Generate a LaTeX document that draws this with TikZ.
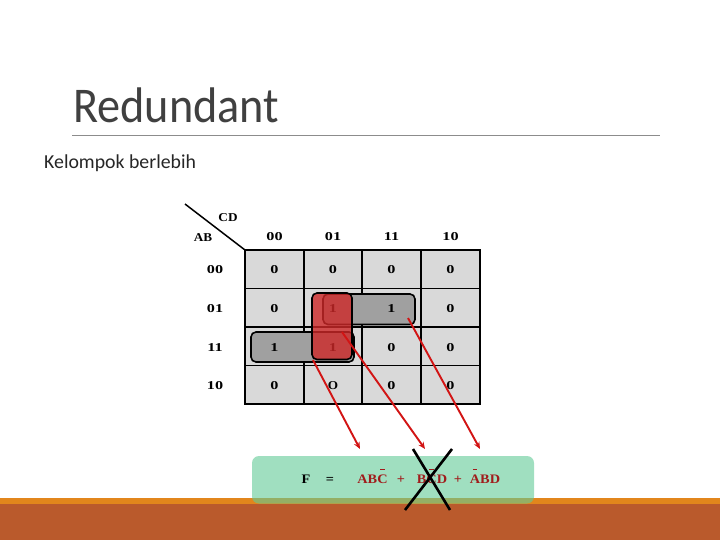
\documentclass[tikz,border=0pt]{standalone}
\usepackage{fontspec}
\usepackage{graphicx}
\setmainfont{Liberation Serif}
\newfontfamily\calib{Carlito}
\usetikzlibrary{arrows.meta}
\definecolor{titlegray}{RGB}{64,64,64}
\definecolor{cellgray}{RGB}{217,217,217}
\definecolor{pillgray}{RGB}{160,160,160}
\definecolor{pillred}{RGB}{205,40,40}
\definecolor{linered}{RGB}{210,20,20}
\definecolor{termred}{RGB}{160,28,28}
\definecolor{boxgreen}{RGB}{97,203,150}
\definecolor{bandorange}{RGB}{226,134,28}
\definecolor{bandbrown}{RGB}{186,90,44}
\newcommand\kmnum[1]{\scalebox{1.35}[1]{#1}}
\newcommand\kmlet[1]{\scalebox{1.1}[1]{#1}}
\newcommand\eqlet[1]{\scalebox{1.1}[1]{#1}}
\newcommand\negbar[1]{\ooalign{#1\cr\hidewidth\rule[13.5pt]{4pt}{1.4pt}\hidewidth\cr}}
\tikzset{
  cellbox/.style={draw=black,line width=1.6pt,fill=cellgray},
  kmtext/.style={font=\fontsize{12}{14}\selectfont\bfseries,inner sep=0pt},
  graypill/.style={draw=black,line width=1.6pt,fill=pillgray,rounded corners=5pt},
  redpill/.style={draw=black,line width=1.6pt,fill=pillred,fill opacity=0.8,rounded corners=5pt},
  pointer/.style={draw=linered,line width=1.9pt,-{Stealth[length=7pt,width=6pt]}},
  eqtext/.style={font=\fontsize{13}{15}\selectfont\bfseries,inner sep=0pt,anchor=base},
  cross/.style={draw=black,line width=2.6pt}
}
\begin{document}
\begin{tikzpicture}[x=1pt,y=-1pt]
\useasboundingbox (0,0) rectangle (720,540);
\fill[white] (0,0) rectangle (720,540);
% bottom band
\fill[bandorange] (0,497.5) rectangle (720,504);
\fill[bandbrown] (0,504) rectangle (720,540);
% title
\node[anchor=base west,inner sep=0pt,text=titlegray,font=\calib\fontsize{50}{56}\selectfont] (title) at (73,123) {\scalebox{0.925}[1]{Redundant}};
\draw[color=gray!90,line width=1pt] (72,136) coordinate (ruleL) -- (660,136) coordinate (ruleR);
\node[anchor=base west,inner sep=0pt,text=black!85,font=\calib\fontsize{19.8}{22}\selectfont] (sub) at (44,169) {Kelompok berlebih};
% K-map cells
\foreach \c/\xa/\xb in {0/245/304,1/304/362,2/362/421,3/421/480}{
  \foreach \r/\ya/\yb in {0/250/288.5,1/288.5/327,2/327/365.5,3/365.5/404}{
    \draw[cellbox] (\xa,\ya) rectangle (\xb,\yb);
  }
}
% diagonal header
\coordinate (diagA) at (185,204);
\coordinate (diagB) at (245,250);
\draw[line width=1.5pt] (diagA) -- (diagB);
\node[kmtext] (cd) at (228,218) {\kmlet{CD}};
\node[kmtext] (ab) at (203,238) {\kmlet{AB}};
\node[kmtext] (h0) at (274.5,237) {\kmnum{00}};
\node[kmtext] (h1) at (333,237) {\kmnum{01}};
\node[kmtext] (h2) at (391.5,237) {\kmnum{11}};
\node[kmtext] (h3) at (450.5,237) {\kmnum{10}};
\node[kmtext] (r0) at (215,270) {\kmnum{00}};
\node[kmtext] (r1) at (215,309) {\kmnum{01}};
\node[kmtext] (r2) at (215,348) {\kmnum{11}};
\node[kmtext] (r3) at (215,386) {\kmnum{10}};
% gray groups
\draw[graypill] (251,332) rectangle (354,362);
\draw[graypill] (323,294) rectangle (415,324.5);
% cell values
\node[kmtext] (c00) at (274.5,270) {\kmnum{0}};
\node[kmtext] (c01) at (333,270) {\kmnum{0}};
\node[kmtext] (c02) at (391.5,270) {\kmnum{0}};
\node[kmtext] (c03) at (450.5,270) {\kmnum{0}};
\node[kmtext] (c10) at (274.5,309) {\kmnum{0}};
\node[kmtext] (c11) at (333,309) {\kmnum{1}};
\node[kmtext] (c12) at (391.5,309) {\kmnum{1}};
\node[kmtext] (c13) at (450.5,309) {\kmnum{0}};
\node[kmtext] (c20) at (274.5,348) {\kmnum{1}};
\node[kmtext] (c21) at (333,348) {\kmnum{1}};
\node[kmtext] (c22) at (391.5,348) {\kmnum{0}};
\node[kmtext] (c23) at (450.5,348) {\kmnum{0}};
\node[kmtext] (c30) at (274.5,386) {\kmnum{0}};
\node[kmtext] (c31) at (333,386) {\kmlet{O}};
\node[kmtext] (c32) at (391.5,386) {\kmnum{0}};
\node[kmtext] (c33) at (450.5,386) {\kmnum{0}};
% red group
\draw[redpill] (312,293) rectangle (352,359.5);
% green result box
\fill[boxgreen,opacity=0.6,rounded corners=7pt] (252,456) rectangle (534,503.5);
\node[eqtext,text=black] (F) at (306,483.5) {\eqlet{F}};
\node[eqtext,text=black] (eq) at (330,483.5) {\eqlet{=}};
\node[eqtext,text=termred] (t1) at (372.5,483.5) {\eqlet{AB\negbar{C}}};
\node[eqtext,text=termred] (p1) at (401,483.5) {\eqlet{+}};
\node[eqtext,text=termred] (t2) at (432,483.5) {\eqlet{B\negbar{C}D}};
\node[eqtext,text=termred] (p2) at (458,483.5) {\eqlet{+}};
\node[eqtext,text=termred] (t3) at (485,483.5) {\eqlet{\negbar{A}BD}};
% pointers
\coordinate (s1) at (313,360);
\coordinate (s2) at (342,332);
\coordinate (s3) at (408,318);
\coordinate (e1) at (360,449);
\coordinate (e2) at (425,449);
\coordinate (e3) at (480,449);
\draw[pointer] (s1) -- (e1);
\draw[pointer] (s2) -- (e2);
\draw[pointer] (s3) -- (e3);
% cross over redundant term
\coordinate (x1) at (413,449);
\coordinate (x2) at (450,510);
\coordinate (x3) at (452,449);
\coordinate (x4) at (405,510);
\draw[cross] (x1) -- (x2);
\draw[cross] (x3) -- (x4);
\end{tikzpicture}
\end{document}
